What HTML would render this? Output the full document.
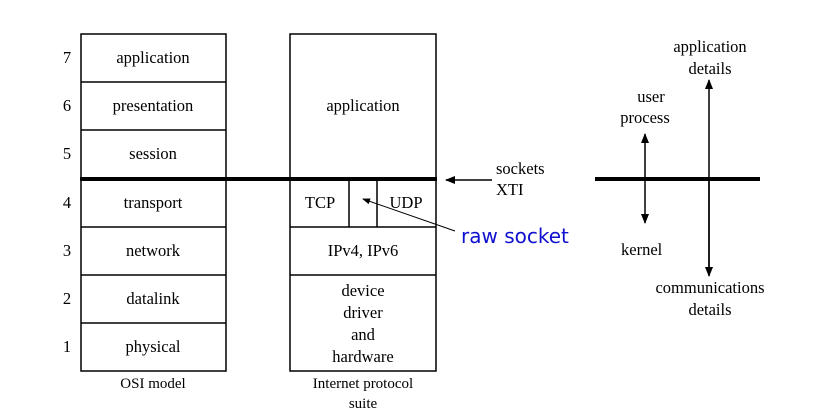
<!DOCTYPE html><html><head><style>body{margin:0;background:#fff}</style></head><body>
<svg width="821" height="413" xmlns="http://www.w3.org/2000/svg" font-family="Liberation Serif, serif" font-size="16.5" fill="#000">
<defs><marker id="a" markerWidth="10" markerHeight="8" refX="9" refY="4" orient="auto" markerUnits="userSpaceOnUse"><path d="M0,0 L10,4 L0,8 z"/></marker>
<marker id="s" markerWidth="8" markerHeight="6" refX="7" refY="3" orient="auto" markerUnits="userSpaceOnUse"><path d="M0,0 L8,3 L0,6 z"/></marker></defs>
<g stroke="#000" stroke-width="1.5" fill="none">
<rect x="81" y="34" width="145" height="337"/>
<line x1="81" y1="82" x2="226" y2="82"/><line x1="81" y1="130" x2="226" y2="130"/>
<line x1="81" y1="227" x2="226" y2="227"/><line x1="81" y1="275" x2="226" y2="275"/><line x1="81" y1="323" x2="226" y2="323"/>
<rect x="290" y="34" width="146" height="337"/>
<line x1="290" y1="227" x2="436" y2="227"/><line x1="290" y1="275" x2="436" y2="275"/>
<line x1="349" y1="179" x2="349" y2="227"/><line x1="377" y1="179" x2="377" y2="227"/>
</g>
<g stroke="#000" stroke-width="4"><line x1="80" y1="179" x2="437" y2="179"/><line x1="595" y1="179" x2="760" y2="179"/></g>
<g stroke="#000" stroke-width="1.5">
<line x1="492" y1="180" x2="446" y2="180" marker-end="url(#a)"/>
<line x1="709" y1="275" x2="709" y2="80" marker-end="url(#a)"/>
<line x1="709" y1="179" x2="709" y2="276" marker-end="url(#a)"/>
<line x1="645" y1="179" x2="645" y2="134" marker-end="url(#a)"/>
<line x1="645" y1="179" x2="645" y2="223" marker-end="url(#a)"/>
<line x1="455" y1="231" x2="363" y2="199" stroke-width="1" marker-end="url(#s)"/>
</g>
<g text-anchor="middle">
<text x="153" y="63">application</text><text x="153" y="111">presentation</text><text x="153" y="159">session</text>
<text x="153" y="208">transport</text><text x="153" y="256">network</text><text x="153" y="304">datalink</text><text x="153" y="352">physical</text>
<text x="67" y="63">7</text><text x="67" y="111">6</text><text x="67" y="159">5</text><text x="67" y="208">4</text><text x="67" y="256">3</text><text x="67" y="304">2</text><text x="67" y="352">1</text>
<text x="363" y="111">application</text><text x="320" y="208">TCP</text><text x="406" y="208">UDP</text>
<text x="363" y="256">IPv4, IPv6</text>
<text x="363" y="296">device</text><text x="363" y="318">driver</text><text x="363" y="340">and</text><text x="363" y="362">hardware</text>
<text x="153" y="388" font-size="15">OSI model</text>
<text x="363" y="388" font-size="15">Internet protocol</text><text x="363" y="408" font-size="15">suite</text>
<text x="710" y="52">application</text><text x="710" y="74">details</text>
<text x="651" y="102">user</text><text x="645" y="123">process</text>
<text x="710" y="293">communications</text><text x="710" y="315">details</text>
</g>
<text x="496" y="174">sockets</text><text x="496" y="195">XTI</text>
<text x="621" y="255">kernel</text>
<text x="461" y="243" font-family="DejaVu Sans, sans-serif" font-size="20" fill="#1010d0">raw socket</text>
</svg></body></html>
